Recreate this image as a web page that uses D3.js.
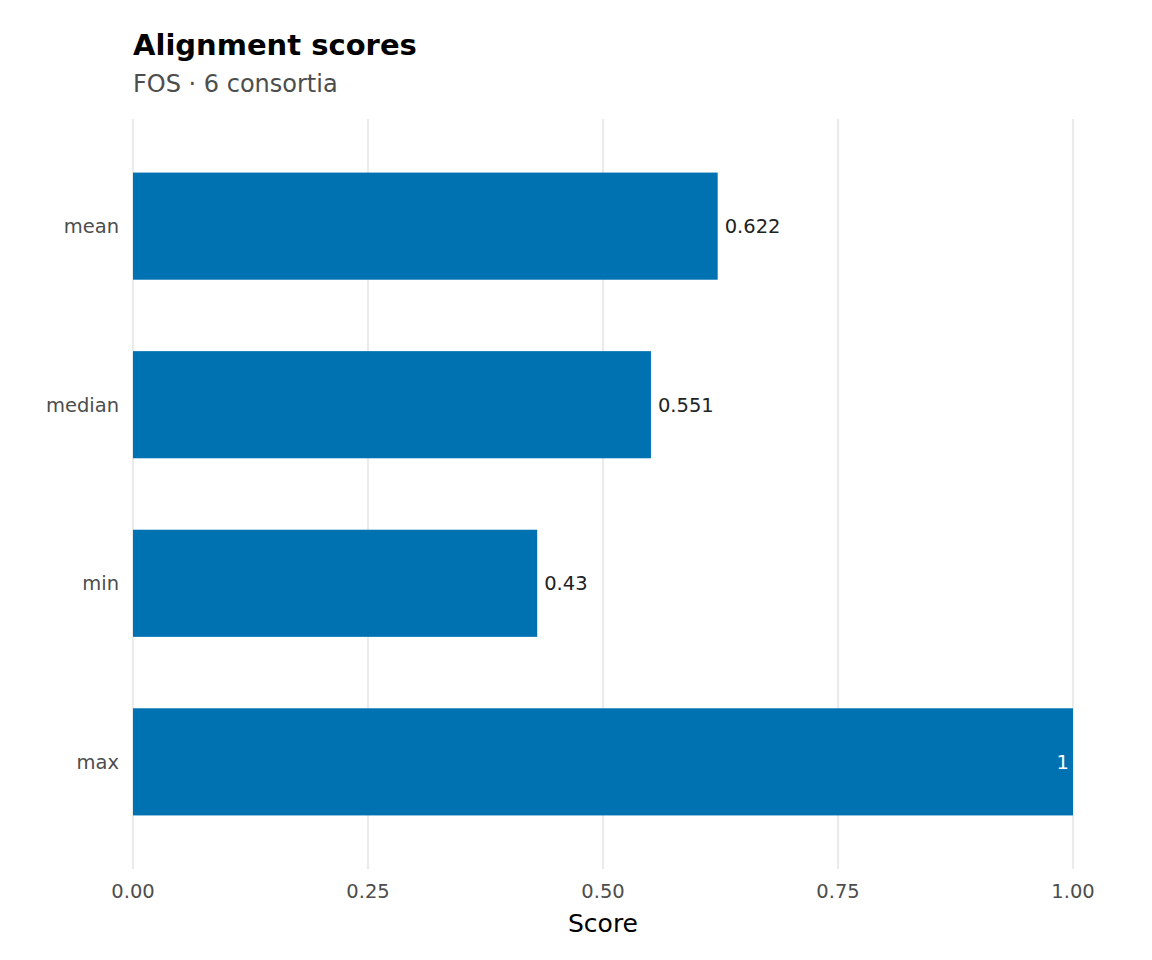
<!DOCTYPE html>
<html><head><meta charset="utf-8">
<script src="https://cdn.jsdelivr.net/npm/d3@7"></script>
<style>body{margin:0;background:#fff}</style></head>
<body><svg id="c" width="1152" height="960"></svg>
<script>
const categories = ["mean","median","min","max"];
const values = [0.622,0.551,0.43,1];
const labels = ["0.622","0.551","0.43","1"];
const ticks = [0,0.25,0.5,0.75,1];
const tickLabels = ["0.00","0.25","0.50","0.75","1.00"];

const svg = d3.select("#c");
const font = "DejaVu Sans, sans-serif";
const x = d3.scaleLinear().domain([0,1]).range([133,1073]);
const y = d3.scaleBand().domain(categories).range([119,869]).paddingInner(0.4).paddingOuter(0.3);

svg.selectAll(".g").data(ticks).enter().append("line")
  .attr("x1",d=>x(d)).attr("x2",d=>x(d)).attr("y1",119).attr("y2",869)
  .attr("stroke","#ebebeb").attr("stroke-width",2.2);

svg.selectAll(".b").data(categories).enter().append("rect")
  .attr("x",x(0)).attr("y",d=>y(d)).attr("height",y.bandwidth())
  .attr("width",(d,i)=>x(values[i])-x(0)).attr("fill","#0072B2");

svg.selectAll(".v").data(categories).enter().append("text")
  .attr("x",(d,i)=>values[i]>=0.95? x(values[i])-4 : x(values[i])+7)
  .attr("y",d=>y(d)+y.bandwidth()/2).attr("dy","0.35em")
  .attr("text-anchor",(d,i)=>values[i]>=0.95?"end":"start")
  .attr("fill",(d,i)=>values[i]>=0.95?"#fff":"#222")
  .attr("font-family",font).attr("font-size",19.5).text((d,i)=>labels[i]);

svg.selectAll(".yl").data(categories).enter().append("text")
  .attr("x",119).attr("y",d=>y(d)+y.bandwidth()/2).attr("dy","0.35em")
  .attr("text-anchor","end").attr("fill","#4d4d4d").attr("font-family",font).attr("font-size",19.5).text(d=>d);

svg.selectAll(".xl").data(ticks).enter().append("text")
  .attr("x",d=>x(d)).attr("y",898).attr("text-anchor","middle")
  .attr("fill","#4d4d4d").attr("font-family",font).attr("font-size",19.5).text((d,i)=>tickLabels[i]);

svg.append("text").attr("x",(x(0)+x(1))/2).attr("y",932).attr("text-anchor","middle")
  .attr("font-family",font).attr("font-size",25).attr("fill","#000").text("Score");
svg.append("text").attr("x",133).attr("y",55).attr("font-family",font).attr("font-size",29)
  .attr("font-weight","bold").attr("fill","#000").text("Alignment scores");
svg.append("text").attr("x",133).attr("y",92).attr("font-family",font).attr("font-size",24)
  .attr("fill","#4d4d4d").text("FOS · 6 consortia");
</script></body></html>
